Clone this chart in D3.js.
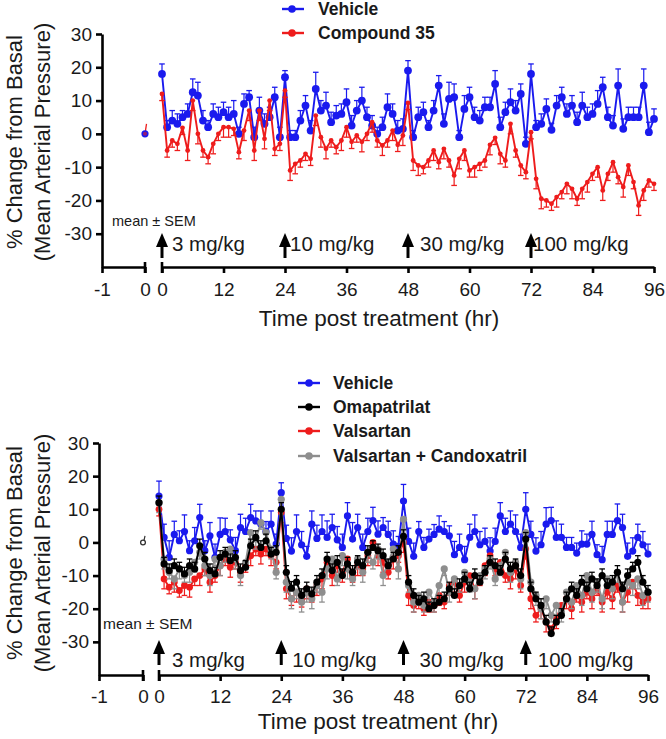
<!DOCTYPE html>
<html><head><meta charset="utf-8">
<script src="https://cdn.jsdelivr.net/npm/d3@7"></script>
<style>body{margin:0;background:#fff} text{font-family:"Liberation Sans",Arial,Helvetica,sans-serif}</style>
</head><body><svg id="c" width="666" height="739"></svg>
<script>
// ---------------- DATA ----------------
const hours = d3.range(0, 97);              // hourly samples 0..96 h
const yTicks = [-30, -20, -10, 0, 10, 20, 30];
const xTicksMain = [0, 12, 24, 36, 48, 60, 72, 84, 96];
const xTicksPre = [-1, 0];
const doseHours = [0, 24, 48, 72];
const doseLabels = ["3 mg/kg", "10 mg/kg", "30 mg/kg", "100 mg/kg"];
const topNames = ["Vehicle", "Compound 35"];
const bottomNames = ["Vehicle", "Omapatrilat", "Valsartan", "Valsartan + Candoxatril"];
const topBasal = [0, 0];
const bottomBasal = [0];

const topVehicle = [18,2,4,3,5,6,12.5,11.5,4,2, 6,5,6.5,5,6,0,9,11,-1,7, 3,5,11,-1,17,-1,-1,4,8.5,1,
  13.5,7,8.5,3.5,5.5,6,9.5,2.5,7,10, 5,2.5,0,2,8,6,1,1.5,19,-1, 5,6.5,2,7,14.5,3,10.5,11,-1,7.5,
  11,5,4,8,8,15,2,6.5,9.5,7, 12,-3,18,2,3,7.5,1.2,8.5,11,6, 8.5,3.5,8.5,5,6,9,14,5,2.5,14.5,
  1.5,5,5,5,14.5,0.5,4.5];
const topVehicleSem = [3,2,3,3,2,3,4,4,3,2, 3,3,3,3,4,2,3,2,3,4, 3,3,3,3,2,2,2,3,3,3,
  5,3,4,3,3,3,4,3,3,4, 3,3,2,3,4,3,3,3,3,2, 3,3,2,3,3,3,5,4,2,4,
  3,3,3,3,3,4,3,3,4,3, 3,2,3,2,3,3,2,3,3,3, 3,3,4,3,3,4,3,3,3,5, 3,3,3,3,5,3,3];
const topCompound = [12,-5,-2,-3,1.8,-5,10,0,-5,-7, -3,0,2,2,1.5,-5.5,1,7,-5,7, -1.5,10,-4.5,-3,13,-11,-9,-8,-6,-7.5,
  5.5,-1,-4.5,-2,-4,-2,2,-2.4,-0.5,-2.4, 0,3.5,-2,-3.5,-2,1,-3.3,-0.5,9.3,-8,
  -9.5,-10,-8,-5,-8.5,-4.5,-8,-12.5,-7.5,-5, -11,-10,-9,-8,-3.3,-1.2,-6,-8,3,-5,
  -9.5,-11.5,0.5,-13.5,-19.5,-20,-21,-19,-17.5,-15, -16.5,-19.5,-16.5,-14.5,-12,-10,-17,-12,-8.5,-13,
  -16,-9.5,-14.5,-21.5,-17,-14,-15];
const topCompoundSem = [2,2,2,2,2,3,3,3,2,2, 3,2,3,3,2,2,3,3,3,3, 3,3,2,2,2,3,3,2,2,2,
  3,3,3,2,2,3,3,2,2,3, 2,3,2,3,2,3,2,3,2,3, 3,2,2,3,2,3,2,3,3,3,
  2,3,2,2,3,2,3,2,3,2, 3,2,2,3,3,2,2,3,2,3, 3,2,3,3,2,3,3,2,3,2, 3,3,2,3,3,2,2];

const botVehicle = [14,1.5,-4.5,2.4,0.5,3.3,-2.5,0.5,7.5,-2.5, 2,-4.5,2.4,3.3,0.8,-2.5,4.5,3.3,7.5,6.5,
  5.5,3.3,5.5,-0.5,15,1.2,-2.6,3.3,-0.7,-4.2, 5.5,1.2,3.3,1.5,4.5,0.8,-1.5,8,1,4.5,
  -1.5,3.3,6.6,2.5,4.5,2.4,-0.5,-1.2,12.5,0.3, -4.2,3.3,-1.5,1,2.4,4,3.3,2,-3.7,-1.5,
  -5.2,1.5,3.3,-0.7,0.3,-2.6,0.3,8,3.3,5.5, 3.3,-1.5,10,2.4,-2.6,-0.7,5.5,6.6,1.5,1.5,
  -1.5,-1.5,-3.2,-0.5,-0.5,2.4,-3.7,-5.2,2.4,2.4, 6.6,4.5,-4.2,-2.6,1.5,-0.7,-3.5];
const botVehicleSem = [4.5,4,5,4,3,5,3,4,4,3, 4,4,5,4,3,4,4,4,4,3, 4,3,4,3,3,4,4,5,4,3,
  4,4,5,5,4,4,4,4,5,4, 4,4,4,4,3,4,4,3,5,4, 4,3,3,3,3,4,3,3,4,4,
  4,4,5,4,4,4,4,4,4,4, 5,4,5,4,4,4,5,4,5,4, 3,3,3,4,3,4,3,4,4,4, 5,4,4,4,4,4,3];
const botOmapatrilat = [12,-6.5,-8.5,-7,-8,-9.5,-7,-8,-1,-5, -8.5,-9.5,-4.5,-3.5,-5.5,-4.5,-8.5,-7.5,-1,1.5,
  -1.5,0.5,-3.5,-3,10,-9,-13.8,-12,-16,-14, -15.5,-12,-10,-5,-8.5,-6,-10,-6.5,-9,-6,
  -7,-3,-1.5,-2.5,-4,-7,-5,-3,1.8,-12, -16,-18,-17,-20,-19,-18,-17,-14,-16,-13,
  -11,-14,-10,-12,-9,-6,-7,-9,-5,-8, -7,-10,1,-14,-17,-19,-24,-27.5,-24,-22,
  -17,-14,-16,-12,-14,-11,-13,-10,-13,-12, -9,-14,-10,-8,-6,-12,-15];
const botOmapatrilatSem = [2,2,2,2,2,2,2,2,2,2, 2,2,2,2,2,2,2,2,2,2, 2,2,2,2,2,2,2,2,2,2,
  2,2,2,2,2,2,2,2,2,2, 2,2,2,2,2,2,2,2,2,2, 2,2,2,2,2,2,2,2,2,2,
  2,2,2,2,2,2,2,2,2,2, 2,2,2,2,2,2,2,2,2,2, 2,2,2,2,2,2,2,2,2,2, 2,2,2,2,2,2,2];
const botValsartan = [10,-11,-13.5,-12,-14.5,-13,-13.5,-11,-10,-8, -12,-10,-7,-5,-7.5,-6,-9,-7,-4,-2,
  -3.5,-2,-4,-6,9,-14,-17,-15,-17.5,-14, -16,-13,-11,-6,-10,-7,-9,-5,-10,-7,
  -8,-4,0,-4,-6,-9,-5,-4,0,-16, -19,-17,-20,-18,-19,-16,-18,-13,-12,-16,
  -12,-10,-14,-11,-7,-4,-8,-6,-10,-11, -8,-13,-2,-17,-22,-20,-24,-26,-23,-19,
  -17,-20,-16,-18,-15,-17,-14,-18,-15,-17, -13,-18,-15,-12,-16,-18,-17];
const botValsartanSem = [2,3,2,3,2,3,3,2,3,2, 3,2,3,2,3,2,3,2,3,2, 3,2,3,2,3,3,2,3,2,3,
  2,3,3,2,3,2,3,3,2,3, 2,3,2,3,3,2,3,2,3,3, 2,3,2,3,2,3,2,3,3,2,
  3,2,3,2,3,3,2,3,2,3, 3,2,3,3,2,3,3,2,3,2, 3,3,2,3,2,3,2,3,2,3, 2,3,3,2,3,2,3];
const botCombo = [12,-5,-9,-11,-8,-10,-9,-6,-3,-7, -10,-5,-7,-3,-2,-5,-10,-6,3,1,
  6,3,-2,-9,13,-12,-17,-15,-18,-15, -17,-13,-15,-8,-5,-11,-4,-8,-11,-5,
  -9,-3,-6,-2,-10,-6,-2,-8,7,-13, -18,-16,-19,-15,-18,-13,-8,-15,-11,-13,
  -9,-12,-14,-10,-8,-5,-11,-7,-3,-9, -6,-11,3,-12,-16,-20,-17,-22,-19,-21,
  -15,-18,-13,-16,-10,-15,-12,-17,-11,-14, -9,-18,-12,-13,-11,-16,-15];
const botComboSem = [3,3,2,3,3,2,3,3,2,3, 3,2,3,3,2,3,3,2,3,3, 2,3,3,2,3,3,3,2,3,3,
  3,2,3,3,3,2,3,3,2,3, 3,3,2,3,3,2,3,3,3,2, 3,3,2,3,3,3,2,3,3,2,
  3,3,3,2,3,3,2,3,3,3, 2,3,3,2,3,3,3,2,3,3, 3,2,3,3,2,3,3,3,2,3, 3,3,2,3,3,3,3];

// ---------------- DRAWING ----------------
const svg = d3.select("#c");
const FONT = '"Liberation Sans",Arial,Helvetica,sans-serif';
const BLUE = "#1a1aee", RED = "#ee1c1c", GRAY = "#8e8e8e", BLACK = "#000";

function drawPanel(cfg) {
  const g = svg.append("g");
  const xPre = d3.scaleLinear().domain([-1, 0]).range(cfg.xPre);
  const x = d3.scaleLinear().domain([0, 96]).range(cfg.xMain);
  const y = d3.scaleLinear().domain([-40, 30]).range(cfg.yRange);

  cfg.series.forEach(s => {
    const sg = g.append("g");
    s.values.forEach((v, i) => {
      const e = s.sem[i] || 0;
      const yv = y(v), ye = y(v + s.dir * e), xv = x(hours[i]);
      sg.append("line").attr("x1", xv).attr("x2", xv).attr("y1", yv).attr("y2", ye)
        .attr("stroke", s.color).attr("stroke-width", 1.2);
      sg.append("line").attr("x1", xv - 2.8).attr("x2", xv + 2.8).attr("y1", ye).attr("y2", ye)
        .attr("stroke", s.color).attr("stroke-width", 1.3);
    });
    const line = d3.line().x((d, i) => x(hours[i])).y(d => y(d));
    sg.append("path").datum(s.values).attr("d", line).attr("fill", "none")
      .attr("stroke", s.color).attr("stroke-width", 1.9).attr("stroke-linejoin", "round");
    sg.selectAll("circle").data(s.values).join("circle")
      .attr("cx", (d, i) => x(hours[i])).attr("cy", d => y(d)).attr("r", s.r).attr("fill", s.color);
  });

  cfg.basal(g, xPre, y);

  const axisStyle = sel => {
    sel.selectAll("path.domain").attr("stroke", "#000").attr("stroke-width", 2.6);
    sel.selectAll(".tick line").attr("stroke", "#000").attr("stroke-width", 2.6);
    sel.selectAll(".tick text").attr("font-family", FONT).attr("font-size", 19).attr("fill", "#1a1a1a");
  };
  const fmt = d => String(d);
  g.append("g").attr("transform", `translate(${cfg.xPre[0]},0)`)
    .call(d3.axisLeft(y).tickValues(yTicks).tickFormat(fmt).tickSize(6).tickSizeOuter(0).tickPadding(4)).call(axisStyle);
  const yb = cfg.yRange[0];
  g.append("g").attr("transform", `translate(0,${yb})`)
    .call(d3.axisBottom(xPre).tickValues(xTicksPre).tickFormat(fmt).tickSize(6).tickSizeOuter(0).tickPadding(cfg.xPad)).call(axisStyle);
  g.append("g").attr("transform", `translate(0,${yb})`)
    .call(d3.axisBottom(x).tickValues(xTicksMain).tickFormat(fmt).tickSize(6).tickSizeOuter(0).tickPadding(cfg.xPad)).call(axisStyle);
  [xPre(0), x(0)].forEach(xx => g.append("line").attr("x1", xx).attr("x2", xx)
    .attr("y1", yb - 5).attr("y2", yb + 6).attr("stroke", "#000").attr("stroke-width", 2.6));

  g.append("text").attr("x", cfg.xTitle[0]).attr("y", cfg.xTitle[1]).attr("text-anchor", "middle")
    .attr("font-size", 22.5).attr("fill", "#1a1a1a").text("Time post treatment (hr)");
  const yt = g.append("text").attr("transform", `translate(0,${cfg.yTitleCy}) rotate(-90)`)
    .attr("text-anchor", "middle").attr("font-size", 22).attr("fill", "#1a1a1a");
  yt.append("tspan").attr("x", 0).attr("y", 22).text("% Change from Basal");
  yt.append("tspan").attr("x", 0).attr("y", 50).text("(Mean Arterial Pressure)");

  g.append("text").attr("x", cfg.semText[0]).attr("y", cfg.semText[1]).attr("font-size", cfg.semText[2])
    .attr("fill", "#1a1a1a").text("mean ± SEM");

  doseHours.forEach((h, i) => {
    const xa = x(h), [t, b] = cfg.arrow;
    g.append("line").attr("x1", xa).attr("x2", xa).attr("y1", t + 8).attr("y2", b)
      .attr("stroke", "#000").attr("stroke-width", 3);
    g.append("path").attr("d", `M${xa},${t} L${xa - 6},${t + 14} L${xa + 6},${t + 14} Z`).attr("fill", "#000");
    g.append("text").attr("x", xa + cfg.doseOff[i]).attr("y", cfg.doseY).attr("font-size", 20.5)
      .attr("fill", "#1a1a1a").text(doseLabels[i]);
  });

  cfg.series.slice().sort((a, b) => a.legendIdx - b.legendIdx).forEach((s, i) => {
    const ly = cfg.legend.y[i], [l0, l1, lc, lt] = cfg.legend.x;
    g.append("line").attr("x1", l0).attr("x2", l1).attr("y1", ly).attr("y2", ly)
      .attr("stroke", s.color).attr("stroke-width", 2.4);
    g.append("circle").attr("cx", lc).attr("cy", ly).attr("r", 3.8).attr("fill", s.color);
    g.append("text").attr("x", lt).attr("y", ly).attr("dy", "0.36em").attr("font-size", 17.5)
      .attr("font-weight", "bold").attr("fill", "#1a1a1a").text(s.name);
  });
}

drawPanel({
  xPre: [102, 145], xMain: [162, 654], yRange: [267, 34], xPad: 10,
  xTitle: [379, 326], yTitleCy: 142, semText: [112, 226, 14.5],
  arrow: [233, 258], doseY: 251, doseOff: [10, 5, 12, 2],
  legend: { y: [9, 33], x: [282, 304, 292, 318] },
  series: [
    { name: topNames[0], values: topVehicle, sem: topVehicleSem, dir: 1, color: BLUE, r: 3.9, legendIdx: 0 },
    { name: topNames[1], values: topCompound, sem: topCompoundSem, dir: -1, color: RED, r: 2.4, legendIdx: 1 }
  ],
  basal: (g, xPre, y) => {
    const xb = xPre(0);
    g.append("line").attr("x1", xb).attr("x2", xb + 1.5).attr("y1", y(topBasal[1])).attr("y2", y(topBasal[1] + 3))
      .attr("stroke", RED).attr("stroke-width", 1.3);
    g.append("circle").attr("cx", xb).attr("cy", y(topBasal[0])).attr("r", 3.6).attr("fill", BLUE);
    g.append("circle").attr("cx", xb).attr("cy", y(topBasal[1])).attr("r", 2).attr("fill", RED).attr("opacity", 0.6);
  }
});

drawPanel({
  xPre: [99, 143], xMain: [159, 648], yRange: [675, 443], xPad: 9,
  xTitle: [378, 729], yTitleCy: 553, semText: [103, 629, 15.5],
  arrow: [640, 665], doseY: 667, doseOff: [13, 11, 16, 12],
  legend: { y: [383, 407, 431, 456], x: [298, 320, 309, 333] },
  series: [
    { name: bottomNames[0], values: botVehicle, sem: botVehicleSem, dir: 1, color: BLUE, r: 3.6, legendIdx: 0 },
    { name: bottomNames[2], values: botValsartan, sem: botValsartanSem, dir: -1, color: RED, r: 3.4, legendIdx: 2 },
    { name: bottomNames[3], values: botCombo, sem: botComboSem, dir: -1, color: GRAY, r: 3.6, legendIdx: 3 },
    { name: bottomNames[1], values: botOmapatrilat, sem: botOmapatrilatSem, dir: 1, color: BLACK, r: 3.6, legendIdx: 1 }
  ],
  basal: (g, xPre, y) => {
    const xb = xPre(0);
    g.append("line").attr("x1", xb + 1).attr("x2", xb + 2).attr("y1", y(bottomBasal[0]) - 2).attr("y2", y(bottomBasal[0] + 2))
      .attr("stroke", "#333").attr("stroke-width", 1.2);
    g.append("circle").attr("cx", xb).attr("cy", y(bottomBasal[0])).attr("r", 2.4)
      .attr("fill", "#fff").attr("stroke", "#333").attr("stroke-width", 1.3);
  }
});
</script></body></html>
